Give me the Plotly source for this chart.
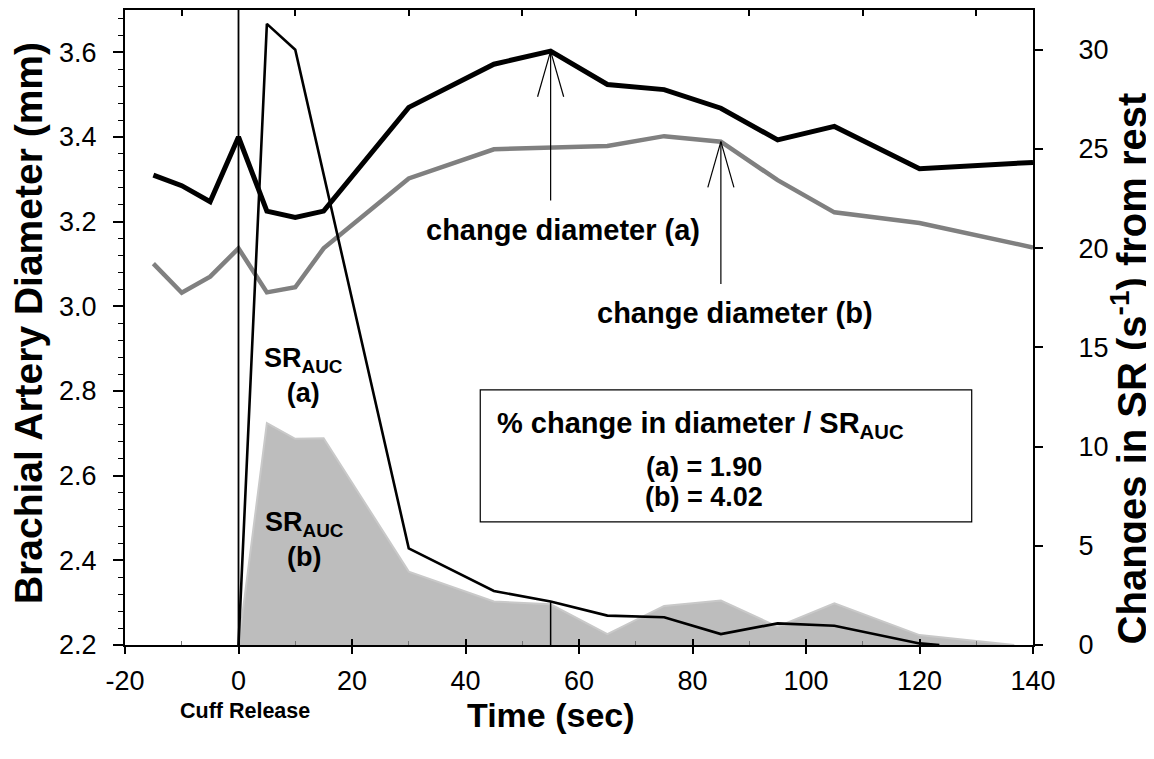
import plotly.graph_objects as go

# ---- data ----
time_d = [-15, -10, -5, 0, 5, 10, 15, 30, 45, 55, 65, 75, 85, 95, 105, 120, 140]
diam_a = [3.31, 3.285, 3.247, 3.40, 3.225, 3.21, 3.225, 3.47, 3.572, 3.603, 3.524, 3.512, 3.468, 3.393, 3.425, 3.325, 3.340]

time_db = [-15, -10, -5, 0, 5, 10, 15, 30, 45, 65, 75, 85, 95, 105, 120, 140]
diam_b = [3.101, 3.032, 3.070, 3.137, 3.033, 3.045, 3.137, 3.302, 3.371, 3.379, 3.402, 3.389, 3.298, 3.222, 3.197, 3.139]

time_sra = [0, 5, 10, 30, 45, 55, 65, 75, 85, 95, 105, 120, 123.5]
sr_a = [0, 31.3, 30.0, 4.87, 2.72, 2.19, 1.48, 1.40, 0.55, 1.09, 0.97, 0.08, 0]

time_srb = [0, 5, 10, 15, 30, 45, 55, 65, 75, 85, 95, 105, 120, 136.7]
sr_b = [0, 11.18, 10.39, 10.42, 3.70, 2.19, 2.05, 0.55, 1.97, 2.24, 0.92, 2.10, 0.50, 0]

x_ticks = [-20, 0, 20, 40, 60, 80, 100, 120, 140]
x_tick_text = ["-20", "0", "20", "40", "60", "80", "100", "120", "140"]
x_top_ticks = [-10, 10, 30, 50, 70, 90, 110, 130]
y_left_ticks = [2.2, 2.4, 2.6, 2.8, 3.0, 3.2, 3.4, 3.6]
y_right_ticks = [0, 5, 10, 15, 20, 25, 30]

peak_a_t = 55
peak_b_t = 85
ratio_a = "1.90"
ratio_b = "4.02"

FONT = "Liberation Sans, Arial, sans-serif"
NBSP = "\u00a0"

fig = go.Figure()

# SR AUC (b) filled area
fig.add_trace(go.Scatter(x=time_srb, y=sr_b, yaxis="y2", mode="lines",
                         fill="tozeroy", fillcolor="#bdbdbd",
                         line=dict(color="#c9c9c9", width=2), showlegend=False))
# SR AUC (a) line
fig.add_trace(go.Scatter(x=time_sra, y=sr_a, yaxis="y2", mode="lines",
                         line=dict(color="black", width=2.6), showlegend=False))
# diameter (b)
fig.add_trace(go.Scatter(x=time_db, y=diam_b, mode="lines",
                         line=dict(color="#808080", width=4.5), showlegend=False))
# diameter (a)
fig.add_trace(go.Scatter(x=time_d, y=diam_a, mode="lines",
                         line=dict(color="black", width=5), showlegend=False))

shapes = []
# cuff release line
shapes.append(dict(type="line", xref="x", yref="paper", x0=0, x1=0, y0=0, y1=1,
                   line=dict(color="black", width=1.8)))
# small vertical marker at t=55 on SR(a)
sr_a55 = sr_a[time_sra.index(55)]
shapes.append(dict(type="line", xref="x", yref="y2", x0=55, x1=55, y0=0, y1=sr_a55,
                   line=dict(color="black", width=1.5)))


def arrow(t, tip, base):
    hw = 2.3
    hh = 0.108
    out = [dict(type="line", xref="x", yref="y", x0=t, x1=t, y0=base, y1=tip,
                line=dict(color="black", width=1.2))]
    for s in (-1, 1):
        out.append(dict(type="line", xref="x", yref="y", x0=t, x1=t + s * hw,
                        y0=tip, y1=tip - hh, line=dict(color="black", width=1.2)))
    return out


shapes += arrow(peak_a_t, diam_a[time_d.index(peak_a_t)], 3.25)
shapes += arrow(peak_b_t, diam_b[time_db.index(peak_b_t)], 3.053)

# ratio box
shapes.append(dict(type="rect", xref="x", yref="y2", x0=42.6, x1=129.2, y0=6.2, y1=12.86,
                   line=dict(color="black", width=1.2), fillcolor="rgba(0,0,0,0)"))

ann_font = dict(family=FONT, size=29, color="black")
annotations = [
    dict(x=57.2, y=3.18, xref="x", yref="y", text="<b>change diameter (a)</b>",
         showarrow=False, font=ann_font),
    dict(x=87.5, y=2.985, xref="x", yref="y", text="<b>change diameter (b)</b>",
         showarrow=False, font=ann_font),
    dict(x=11.4, y=13.6, xref="x", yref="y2", text="<b>SR<sub>AUC</sub><br>(a)</b>",
         showarrow=False, font=dict(family=FONT, size=27, color="black")),
    dict(x=11.6, y=5.3, xref="x", yref="y2", text="<b>SR<sub>AUC</sub><br>(b)</b>",
         showarrow=False, font=dict(family=FONT, size=27, color="black")),
    dict(x=81.4, y=11.1, xref="x", yref="y2", text="<b>% change in diameter / SR<sub>AUC</sub></b>",
         showarrow=False, font=ann_font),
    dict(x=82.0, y=8.98, xref="x", yref="y2", text="<b>(a) = " + ratio_a + "</b>",
         showarrow=False, font=dict(family=FONT, size=27, color="black")),
    dict(x=82.0, y=7.46, xref="x", yref="y2", text="<b>(b) = " + ratio_b + "</b>",
         showarrow=False, font=dict(family=FONT, size=27, color="black")),
    dict(x=1.2, y=-0.104, xref="x", yref="paper", text="<b>Cuff Release</b>",
         showarrow=False, font=dict(family=FONT, size=21.5, color="black"), yanchor="middle"),
    dict(x=55.1, y=-0.11, xref="x", yref="paper", text="<b>Time (sec)</b>",
         showarrow=False, font=dict(family=FONT, size=34, color="black"), yanchor="middle"),
    dict(x=-0.1068, y=0.507, xref="paper", yref="paper", text="<b>Brachial Artery Diameter (mm)</b>",
         showarrow=False, textangle=-90, font=dict(family=FONT, size=39, color="black"),
         xanchor="center", yanchor="middle"),
    dict(x=1.106, y=0.436, xref="paper", yref="paper",
         text="<b>Changes in SR (s<sup>-1</sup>) from rest</b>",
         showarrow=False, textangle=-90, font=dict(family=FONT, size=40, color="black"),
         xanchor="center", yanchor="middle"),
]

tick_font = dict(family=FONT, size=27, color="black")

fig.update_layout(
    width=1146, height=751,
    margin=dict(l=117, r=121, t=2, b=114),
    paper_bgcolor="white", plot_bgcolor="white",
    showlegend=False,
    shapes=shapes, annotations=annotations,
    xaxis=dict(range=[-20, 140], tickvals=x_ticks, ticktext=x_tick_text, ticks="outside", ticklen=7,
               tickwidth=1.5, tickcolor="black", showline=True, linecolor="black",
               linewidth=2, showgrid=False, zeroline=False, tickfont=tick_font,
               ticklabelstandoff=4,
               minor=dict(tickvals=x_top_ticks, ticks="inside", ticklen=4,
                          tickcolor="#777777", tickwidth=1)),
    xaxis2=dict(range=[-20, 140], overlaying="x", anchor="y", side="bottom",
                tickvals=x_ticks, ticks="inside", ticklen=6, tickwidth=1.5,
                tickcolor="black", showticklabels=False, showgrid=False,
                zeroline=False, showline=False),
    xaxis3=dict(range=[-20, 140], overlaying="x", anchor="y", side="top",
                tickvals=x_top_ticks, ticks="inside", ticklen=6, tickwidth=1.5,
                tickcolor="black", showticklabels=False, showgrid=False,
                zeroline=False, showline=True, linecolor="black", linewidth=2),
    yaxis=dict(range=[2.2, 3.7], tickvals=y_left_ticks, ticktext=[f"{v:.1f}" for v in y_left_ticks],
               ticks="outside", ticklen=10, tickwidth=1.5, tickcolor="black",
               showline=True, linecolor="black", linewidth=2, showgrid=False,
               zeroline=False, tickfont=tick_font, ticklabelstandoff=11,
               minor=dict(dtick=0.04, tick0=2.2, ticks="outside", ticklen=5,
                          tickcolor="black", tickwidth=1.2)),
    yaxis2=dict(range=[0, 32], tickvals=y_right_ticks,
                ticktext=[NBSP * 4 + str(v) for v in y_right_ticks],
                overlaying="y", side="right",
                anchor="x", ticks="outside", ticklen=8, tickwidth=1.5, tickcolor="black",
                showline=True, linecolor="black", linewidth=2, showgrid=False,
                zeroline=False, tickfont=tick_font),
)

# dummy traces to activate overlay x axes
fig.add_trace(go.Scatter(x=[None], y=[None], xaxis="x2", showlegend=False))
fig.add_trace(go.Scatter(x=[None], y=[None], xaxis="x3", showlegend=False))

fig.write_html("out.html")
